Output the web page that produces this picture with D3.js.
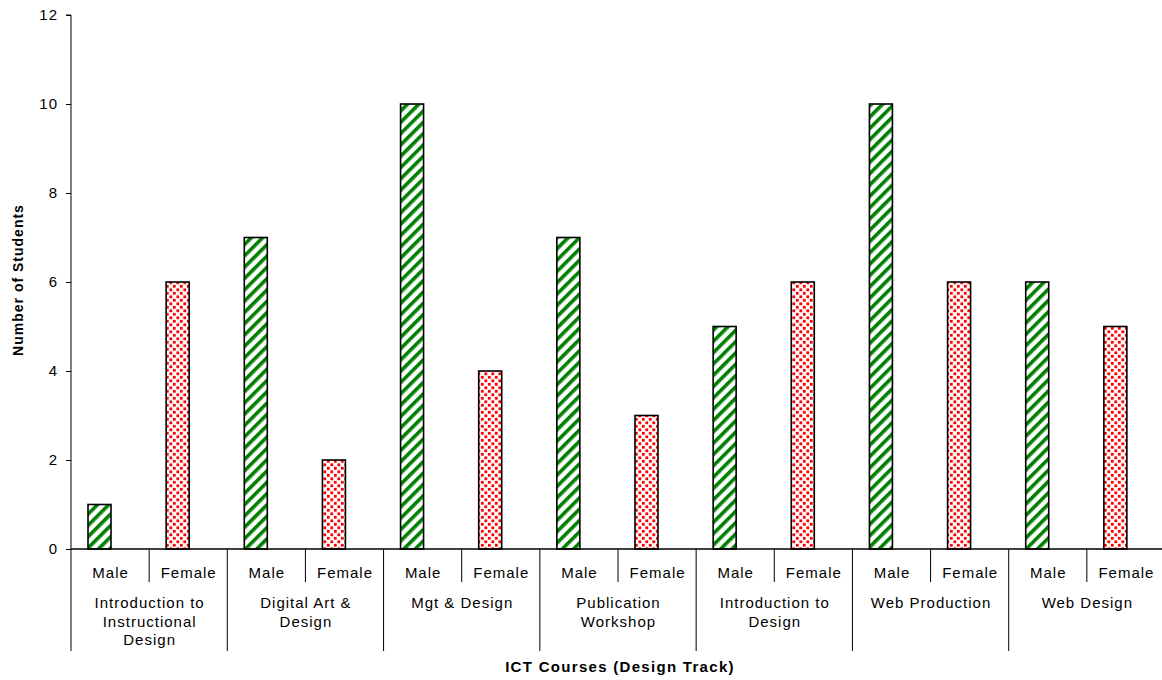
<!DOCTYPE html>
<html><head><meta charset="utf-8">
<script src="https://cdn.jsdelivr.net/npm/d3@7"></script>
<style>body{margin:0;background:#fff}svg{display:block;font-family:Arial,"Liberation Sans",sans-serif}</style>
</head><body><svg id="c" width="1162" height="680"></svg>
<script>
const courses = [["Introduction to","Instructional","Design"],["Digital Art &","Design"],["Mgt & Design"],["Publication","Workshop"],["Introduction to","Design"],["Web Production"],["Web Design"]];
const genders = ["Male","Female"];
const maleValues = [1,7,10,7,5,10,6];
const femaleValues = [6,2,4,3,6,6,5];
const yTicks = [0,2,4,6,8,10,12];

const svg = d3.select("#c");
const defs = svg.append("defs");
const stripe = defs.append("pattern").attr("id","stripe").attr("patternUnits","userSpaceOnUse")
  .attr("width",8).attr("height",8).attr("patternTransform","rotate(45)");
stripe.append("rect").attr("width",8).attr("height",8).attr("fill","#fff");
stripe.append("rect").attr("x",0).attr("width",3.6).attr("height",8).attr("fill","#008000");
const dots = defs.append("pattern").attr("id","dots").attr("patternUnits","userSpaceOnUse")
  .attr("width",7).attr("height",7).attr("x",1).attr("y",1);
dots.append("rect").attr("width",7).attr("height",7).attr("fill","#fff");
[[0.4,0.4],[3.9,3.9]].forEach(([x,y])=>dots.append("rect").attr("x",x).attr("y",y).attr("width",2.8).attr("height",2.8).attr("fill","#ff0000"));

const x0 = 71, x1 = 1165, y0 = 549, yTop = 15;
const y = d3.scaleLinear().domain([0,12]).range([y0,yTop]);
const xg = d3.scaleBand().domain(d3.range(courses.length)).range([x0,x1]).padding(0);
const xs = d3.scaleBand().domain(genders).range([0,xg.bandwidth()]).padding(0);

// y axis
const ya = svg.append("g").attr("transform",`translate(${x0},0)`)
  .call(d3.axisLeft(y).tickValues(yTicks).tickSize(5).tickPadding(8).tickFormat(d3.format("d")));
ya.selectAll("text").attr("font-size",15).attr("letter-spacing",1).attr("fill","#000");
ya.selectAll("line,path").attr("stroke","#000");
ya.select(".domain").attr("d",`M-5,${yTop}H0V${y0}`);

// bars
const data = [];
courses.forEach((c,i)=>{data.push({i,g:"Male",v:maleValues[i]});data.push({i,g:"Female",v:femaleValues[i]});});
svg.append("g").selectAll("rect").data(data).join("rect")
  .attr("x",d=>xg(d.i)+xs(d.g)+17)
  .attr("y",d=>y(d.v))
  .attr("width",23)
  .attr("height",d=>y0-y(d.v))
  .attr("fill",d=>d.g==="Male"?"url(#stripe)":"url(#dots)")
  .attr("stroke","#000").attr("stroke-width",1.6);

// x axis
const xa = svg.append("g");
xa.append("line").attr("x1",x0).attr("x2",1162).attr("y1",y0).attr("y2",y0).attr("stroke","#000").attr("stroke-width",1.3);
courses.forEach((c,i)=>{
  const gx = xg(i);
  xa.append("line").attr("x1",gx).attr("x2",gx).attr("y1",y0).attr("y2",651).attr("stroke","#000");
  const mid = gx + xs("Female");
  xa.append("line").attr("x1",mid).attr("x2",mid).attr("y1",y0).attr("y2",582).attr("stroke","#000");
  genders.forEach(g=>{
    xa.append("text").attr("x",gx+xs(g)+xs.bandwidth()/2+0.5).attr("y",578).attr("text-anchor","middle")
      .attr("font-size",15).attr("letter-spacing",1).text(g);
  });
  c.forEach((line,k)=>{
    xa.append("text").attr("x",gx+xg.bandwidth()/2+0.5).attr("y",608+k*18.5).attr("text-anchor","middle")
      .attr("font-size",15).attr("letter-spacing",1).text(line);
  });
});

svg.append("text").attr("x",620).attr("y",672).attr("text-anchor","middle").attr("font-size",15).attr("letter-spacing",1.3).attr("font-weight","bold").text("ICT Courses (Design Track)");
svg.append("text").attr("transform","translate(23,280) rotate(-90)").attr("text-anchor","middle").attr("font-size",14).attr("letter-spacing",1).attr("font-weight","bold").text("Number of Students");
</script></body></html>
